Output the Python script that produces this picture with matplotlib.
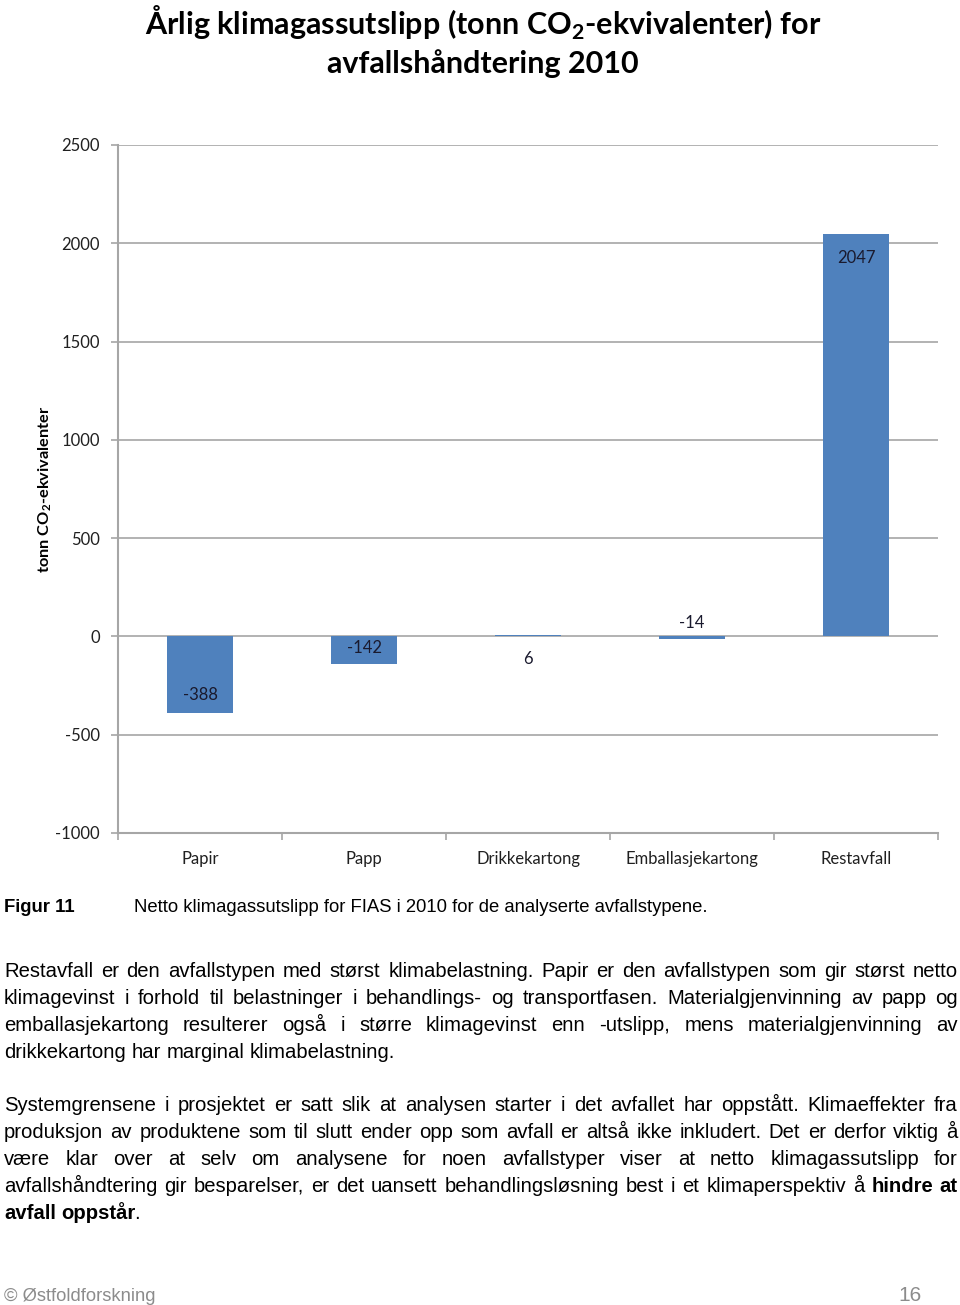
import numpy as np
import matplotlib
matplotlib.use('Agg')
import matplotlib.pyplot as plt

# chart data
categories = ['Papir', 'Papp', 'Drikkekartong', 'Emballasjekartong', 'Restavfall']
values = [-388, -142, 6, -14, 2047]
yticks = [-1000, -500, 0, 500, 1000, 1500, 2000, 2500]

# text on the page
title = 'Årlig klimagassutslipp (tonn CO$_\\mathbf{2}$-ekvivalenter) for\navfallshåndtering 2010'
ylabel = 'tonn CO$_\\mathbf{2}$-ekvivalenter'
caption_label = 'Figur 11'
caption_text = 'Netto klimagassutslipp for FIAS i 2010 for de analyserte avfallstypene.'
para1 = [
    'Restavfall er den avfallstypen med størst klimabelastning. Papir er den avfallstypen som gir størst netto',
    'klimagevinst i forhold til belastninger i behandlings- og transportfasen. Materialgjenvinning av papp og',
    'emballasjekartong resulterer også i større klimagevinst enn -utslipp, mens materialgjenvinning av',
    'drikkekartong har marginal klimabelastning.',
]
para2 = [
    'Systemgrensene i prosjektet er satt slik at analysen starter i det avfallet har oppstått. Klimaeffekter fra',
    'produksjon av produktene som til slutt ender opp som avfall er altså ikke inkludert. Det er derfor viktig å',
    'være klar over at selv om analysene for noen avfallstyper viser at netto klimagassutslipp for',
    'avfallshåndtering gir besparelser, er det uansett behandlingsløsning best i et klimaperspektiv å *hindre *at',
    '*avfall *oppstår.',
]
footer_left = '© Østfoldforskning'
footer_right = '16'

W, H = 960, 1305
chart_font = 'Lato'
body_font = 'Liberation Sans'
plt.rcParams['mathtext.fontset'] = 'custom'
plt.rcParams['mathtext.rm'] = chart_font
plt.rcParams['mathtext.bf'] = chart_font + ':bold'

fig = plt.figure(figsize=(W / 100, H / 100), dpi=100)
fig.patch.set_facecolor('white')

ax = fig.add_axes([118 / W, 1 - 833 / H, 820 / W, 688 / H])
x = np.arange(len(categories))
bars = ax.bar(x, values, width=0.4, color='#4F81BD', zorder=3)
ax.set_xlim(-0.5, len(categories) - 0.5)
ax.set_ylim(-1000, 2500)

grid_col = '#A6A6A6'
ax.set_yticks(yticks)
ax.set_yticklabels([str(v) for v in yticks], fontsize=12, family=chart_font, color='#202020')
ax.tick_params(axis='y', length=5, width=1.2, color=grid_col, pad=8)
ax.yaxis.grid(True, color=grid_col, linewidth=1.2, zorder=0)

ax.set_xticks(x)
ax.set_xticklabels(categories, fontsize=12, family=chart_font, color='#202020')
ax.tick_params(axis='x', length=0, pad=13)
ax.set_xticks(np.arange(len(categories) + 1) - 0.5, minor=True)
ax.tick_params(axis='x', which='minor', length=5, width=1.2, color=grid_col)

for s in ['top', 'right']:
    ax.spines[s].set_visible(False)
for s in ['left', 'bottom']:
    ax.spines[s].set_color(grid_col)
    ax.spines[s].set_linewidth(1.5)

# data labels (offsets in points from the bar end)
label_offsets = [13, 12, -17, 12, -17.5]
for b, v, off in zip(bars, values, label_offsets):
    ax.annotate(str(v), (b.get_x() + b.get_width() / 2, v), xytext=(0, off),
                textcoords='offset points', ha='center', va='center',
                fontsize=12, family=chart_font, color='#1a1a2e')

ax.set_ylabel(ylabel, fontsize=11.8, family=chart_font, fontweight='bold')
ax.yaxis.set_label_coords(-64 / 820, 0.5)

fig.text(483 / W, 1 - 41 / H, title, ha='center', va='center', fontsize=22,
         family=chart_font, fontweight='bold', linespacing=1.3)

# page text
renderer = fig.canvas.get_renderer()


def px(xp, yp):
    return xp / W, 1 - yp / H


def text_width(s, bold, size):
    t = fig.text(0, 0, s, fontsize=size, family=body_font,
                 fontweight='bold' if bold else 'normal')
    w = t.get_window_extent(renderer).width
    t.remove()
    return w


def put_line(line, y, justify, size=14.6, left=4, right=958):
    words = []
    for tok in line.split(' '):
        # '*' marks a bold word; a trailing full stop stays regular
        if tok.startswith('*'):
            body = tok[1:]
            if body.endswith('.'):
                runs = [(body[:-1], True), ('.', False)]
            else:
                runs = [(body, True)]
        else:
            runs = [(tok, False)]
        words.append(runs)
    widths = [sum(text_width(r, b, size) for r, b in w) for w in words]
    space = text_width('a a', False, size) - text_width('aa', False, size)
    if justify and len(words) > 1:
        gap = (right - left - sum(widths)) / (len(words) - 1)
    else:
        gap = space
    xp = left
    base = y + 7
    for w, wd in zip(words, widths):
        xr = xp
        for r, b in w:
            fig.text(*px(xr, base), r, fontsize=size, family=body_font,
                     fontweight='bold' if b else 'normal', va='baseline', ha='left')
            xr += text_width(r, b, size) - 1.5
        xp += wd + gap


fig.text(*px(4, 912), caption_label, fontsize=13.3, family=body_font,
         fontweight='bold', va='baseline')
fig.text(*px(134, 912), caption_text, fontsize=13.3, family=body_font, va='baseline')

for i, line in enumerate(para1):
    put_line(line, 970 + 27 * i, i < len(para1) - 1)
for i, line in enumerate(para2):
    put_line(line, 1104 + 27 * i, i < len(para2) - 1)

fig.text(*px(4, 1301), footer_left, fontsize=13.2, family=body_font, color='#8c8c8c', va='baseline')
fig.text(*px(922, 1301), footer_right, fontsize=15, family=body_font, color='#8c8c8c',
         va='baseline', ha='right')

fig.savefig('out.png', dpi=100)
